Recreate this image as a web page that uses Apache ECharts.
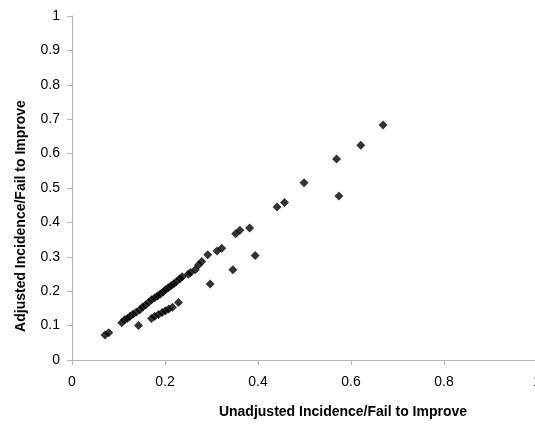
<!DOCTYPE html>
<html>
<head>
<meta charset="utf-8">
<script src="https://cdn.jsdelivr.net/npm/echarts@6/dist/echarts.min.js"></script>
<style>
  html, body { margin: 0; padding: 0; background: #fff; }
  #chart { width: 535px; height: 424px; }
</style>
</head>
<body>
<div id="chart"></div>
<script>
// Unadjusted vs adjusted incidence / fail-to-improve rates
const xTitle = 'Unadjusted Incidence/Fail to Improve';
const yTitle = 'Adjusted Incidence/Fail to Improve';

const unadjusted = [
  0.071, 0.079,
  0.107, 0.113, 0.119, 0.125, 0.131, 0.138, 0.146,
  0.152, 0.158, 0.165, 0.171, 0.178, 0.184, 0.190, 0.196, 0.201, 0.207, 0.213, 0.219, 0.225, 0.232, 0.237,
  0.250, 0.255, 0.265, 0.272, 0.279, 0.292, 0.312, 0.322,
  0.352, 0.361, 0.382, 0.441, 0.457, 0.499, 0.569, 0.621, 0.669,
  0.171, 0.178, 0.186, 0.194, 0.201, 0.208, 0.216, 0.229,
  0.143, 0.297, 0.346, 0.394, 0.574
];
const adjusted = [
  0.073, 0.079,
  0.108, 0.117, 0.121, 0.127, 0.133, 0.139, 0.146,
  0.154, 0.160, 0.168, 0.175, 0.181, 0.186, 0.192, 0.198, 0.204, 0.210, 0.216, 0.222, 0.228, 0.236, 0.242,
  0.249, 0.254, 0.262, 0.276, 0.286, 0.306, 0.317, 0.325,
  0.367, 0.377, 0.384, 0.445, 0.458, 0.515, 0.584, 0.624, 0.683,
  0.121, 0.127, 0.132, 0.138, 0.143, 0.148, 0.153, 0.167,
  0.100, 0.221, 0.262, 0.304, 0.477
];

const points = unadjusted.map((x, i) => [x, adjusted[i]]);

const axisGray = '#b4b4b4';
const labelFont = { color: '#000', fontFamily: 'Liberation Sans, Arial, sans-serif', fontSize: 14 };

const chart = echarts.init(document.getElementById('chart'), null, { renderer: 'canvas' });
chart.setOption({
  animation: false,
  backgroundColor: '#fff',
  grid: {
    left: 72, top: 16, width: 465, height: 344,
    containLabel: false, outerBoundsMode: 'none'
  },
  xAxis: {
    type: 'value', min: 0, max: 1, interval: 0.2,
    axisLine: { show: true, onZero: false, lineStyle: { color: axisGray, width: 1 } },
    axisTick: { show: true, length: 5, lineStyle: { color: axisGray } },
    splitLine: { show: false },
    axisLabel: Object.assign({ margin: 15, showMaxLabel: true }, labelFont)
  },
  yAxis: {
    type: 'value', min: 0, max: 1, interval: 0.1,
    axisLine: { show: true, onZero: false, lineStyle: { color: axisGray, width: 1 } },
    axisTick: { show: true, length: 5, lineStyle: { color: axisGray } },
    splitLine: { show: false },
    axisLabel: Object.assign({ margin: 12 }, labelFont)
  },
  series: [{
    type: 'scatter',
    symbol: 'diamond',
    symbolSize: 9,
    itemStyle: { color: '#000' },
    data: points
  }],
  graphic: [
    {
      type: 'text', x: 343, y: 412,
      style: {
        text: xTitle, fill: '#000',
        font: 'bold 14px "Liberation Sans", Arial, sans-serif',
        textAlign: 'center', textVerticalAlign: 'middle'
      }
    },
    {
      type: 'text', x: 21, y: 216, rotation: Math.PI / 2,
      style: {
        text: yTitle, fill: '#000',
        font: 'bold 14px "Liberation Sans", Arial, sans-serif',
        textAlign: 'center', textVerticalAlign: 'middle'
      }
    }
  ]
});
</script>
</body>
</html>
